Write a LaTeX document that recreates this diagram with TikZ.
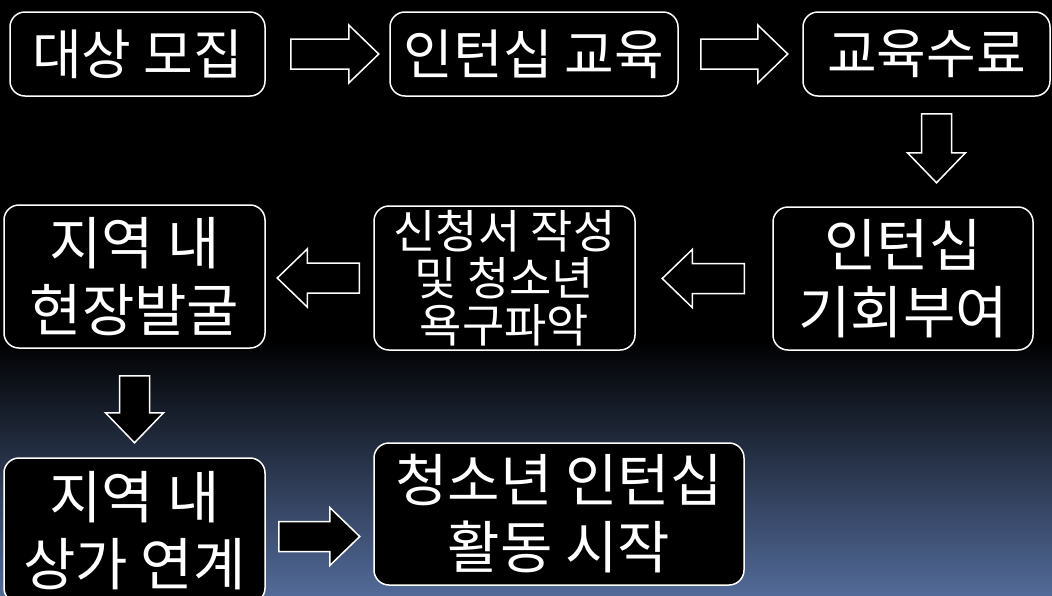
\documentclass[tikz,border=0pt]{standalone}
\usepackage{fontspec}
\newfontfamily\kr{Noto Sans CJK KR}
\usetikzlibrary{calc}
\definecolor{bgblue}{RGB}{82,106,152}
\begin{document}
\begin{tikzpicture}[x=1pt,y=-1pt,
  box/.style={draw=white, line width=1.5pt, fill=black, rounded corners=15pt, text=white, align=center, inner sep=0pt},
  one/.style={font=\kr\fontsize{54}{67}\selectfont},
  big/.style={font=\kr\fontsize{57}{67}\selectfont},
  mid/.style={font=\kr\fontsize{46}{47}\selectfont},
  barrow/.style={draw=white, line width=1.5pt, fill=black, line join=miter},
  pics/blockarrow/.style={code={\draw[barrow] (0,-15) -- (#1-30,-15) -- (#1-30,-29) -- (#1,0) -- (#1-30,29) -- (#1-30,15) -- (0,15) -- cycle;}}
]
\useasboundingbox (0,0) rectangle (1052,595);
\fill[black] (0,0) rectangle (1052,595);
\shade[top color=black, bottom color=bgblue] (0,340) rectangle (1052,595);

\node[box, one, minimum width=255pt, minimum height=84pt] (b1) at (137.5,54) {대상 모집};
\node[box, one, minimum width=288pt, minimum height=84pt] (b2) at (534,54) {인턴십 교육};
\node[box, one, minimum width=247pt, minimum height=84pt] (b3) at (926.5,54) {교육수료};
\node[box, big, minimum width=260pt, minimum height=143pt] (b4) at (903,278.5) {인턴십\\기회부여};
\node[box, mid, minimum width=261pt, minimum height=144pt] (b5) at (504.5,278) {신청서 작성\\및 청소년\\욕구파악};
\node[box, big, minimum width=261pt, minimum height=143pt] (b6) at (134.5,276.5) {지역 내\\현장발굴};
\node[box, big, minimum width=261pt, minimum height=145pt] (b7) at (134.5,530.5) {지역 내\\상가 연계};
\node[box, big, minimum width=370pt, minimum height=142pt] (b8) at (559,514) {청소년 인턴십\\활동 시작};

\pic at ($(b1.east)+(25,0)$) {blockarrow=88};
\pic at ($(b2.east)+(22,0)$) {blockarrow=87};
\pic[rotate=-90] at ($(b3.south)+(10,17)$) {blockarrow=69};
\pic[rotate=180] at ($(b4.west)+(-28,0)$) {blockarrow=82};
\pic[rotate=180] at ($(b5.west)+(-14,0)$) {blockarrow=82};
\pic[rotate=-90] at ($(b6.south)+(0,27)$) {blockarrow=67};
\pic at ($(b7.east)+(13,6)$) {blockarrow=81};
\end{tikzpicture}
\end{document}
